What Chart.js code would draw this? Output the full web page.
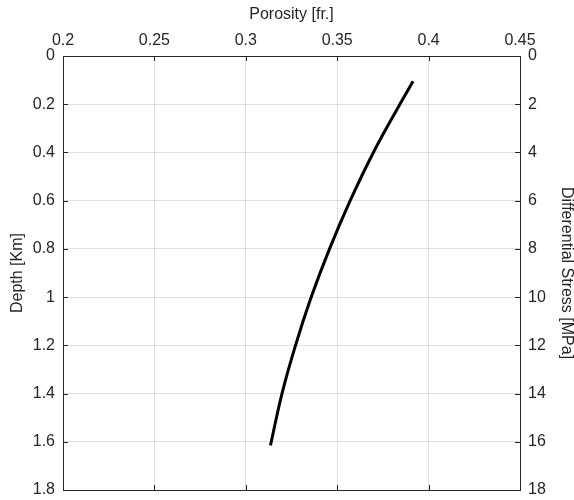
<!DOCTYPE html>
<html>
<head>
<meta charset="utf-8">
<script src="https://cdn.jsdelivr.net/npm/chart.js@4.4.1/dist/chart.umd.min.js"></script>
<style>
  html, body { margin: 0; padding: 0; background: #fff; }
  #wrap { width: 574px; height: 500px; }
</style>
</head>
<body>
<div id="wrap"><canvas id="porosityChart" width="574" height="500"></canvas></div>
<script>
// depth [Km] and porosity [fr.]
const depthKm = [0.105, 0.2, 0.4, 0.6, 0.8, 1.0, 1.2, 1.4, 1.615];
const porosity = [0.3915, 0.3843, 0.3698, 0.3571, 0.3458, 0.3358, 0.3272, 0.3198, 0.3135];

const porosityTicks = [0.2, 0.25, 0.3, 0.35, 0.4, 0.45];
const depthTicks = [0, 0.2, 0.4, 0.6, 0.8, 1, 1.2, 1.4, 1.6, 1.8];
const stressTicks = [0, 2, 4, 6, 8, 10, 12, 14, 16, 18];

const points = depthKm.map((d, i) => ({ x: porosity[i], y: d }));

const textColor = '#262626';
const gridColor = 'rgba(0,0,0,0.12)';
const font = { family: 'Liberation Sans, Arial, sans-serif', size: 16 };
const fmt = v => String(+Number(v).toFixed(2));

// fixed box sizes, no extra room for the end labels
const fixSize = (w, h) => s => {
    if (w != null) s.width = w;
    if (h != null) s.height = h;
    s.paddingTop = s.paddingBottom = s.paddingLeft = s.paddingRight = 0;
};

// matlab style ticks pointing into the box
const innerTicks = {
    id: 'innerTicks',
    afterDraw(chart) {
        const { ctx, chartArea: a, scales } = chart;
        const len = 5;
        ctx.save();
        ctx.strokeStyle = '#262626';
        ctx.lineWidth = 1;
        ctx.beginPath();
        porosityTicks.forEach(v => {
            const px = Math.round(scales.x.getPixelForValue(v)) + 0.5;
            ctx.moveTo(px, a.top); ctx.lineTo(px, a.top + len);
            ctx.moveTo(px, a.bottom); ctx.lineTo(px, a.bottom - len);
        });
        depthTicks.forEach(v => {
            const py = Math.round(scales.y.getPixelForValue(v)) + 0.5;
            ctx.moveTo(a.left, py); ctx.lineTo(a.left + len, py);
        });
        stressTicks.forEach(v => {
            const py = Math.round(scales.y2.getPixelForValue(v)) + 0.5;
            ctx.moveTo(a.right, py); ctx.lineTo(a.right - len, py);
        });
        ctx.stroke();
        ctx.restore();
    }
};

const ctx = document.getElementById('porosityChart').getContext('2d');
new Chart(ctx, {
    type: 'scatter',
    data: {
        datasets: [{
            data: points,
            showLine: true,
            borderColor: '#000',
            borderWidth: 3,
            pointRadius: 0,
            tension: 0.4,
            xAxisID: 'x',
            yAxisID: 'y'
        }]
    },
    options: {
        responsive: false,
        animation: false,
        plugins: { legend: { display: false }, tooltip: { enabled: false } },
        layout: { padding: 0 },
        scales: {
            x: {
                type: 'linear',
                position: 'top',
                min: 0.2,
                max: 0.45,
                afterBuildTicks: s => { s.ticks = porosityTicks.map(v => ({ value: v })); },
                ticks: { color: textColor, font, padding: 6, maxRotation: 0, callback: fmt },
                grid: { color: gridColor, tickLength: 0 },
                border: { color: '#262626', width: 1 },
                title: { display: true, text: 'Porosity [fr.]', color: textColor, font, padding: { top: 5, bottom: 2 } },
                afterFit: fixSize(null, 56)
            },
            xb: {
                type: 'linear',
                position: 'bottom',
                min: 0.2,
                max: 0.45,
                ticks: { display: false },
                grid: { display: false },
                border: { color: '#262626', width: 1 },
                afterFit: fixSize(null, 10)
            },
            y: {
                type: 'linear',
                position: 'left',
                reverse: true,
                min: 0,
                max: 1.8,
                afterBuildTicks: s => { s.ticks = depthTicks.map(v => ({ value: v })); },
                ticks: { color: textColor, font, padding: 8, callback: fmt },
                grid: { color: gridColor, tickLength: 0 },
                border: { color: '#262626', width: 1 },
                title: { display: true, text: 'Depth [Km]', color: textColor, font, padding: { top: 8, bottom: 2 } },
                afterFit: fixSize(63, null)
            },
            y2: {
                type: 'linear',
                position: 'right',
                reverse: true,
                min: 0,
                max: 18,
                afterBuildTicks: s => { s.ticks = stressTicks.map(v => ({ value: v })); },
                ticks: { color: textColor, font, padding: 8, callback: fmt },
                grid: { drawOnChartArea: false, tickLength: 0 },
                border: { color: '#262626', width: 1 },
                title: { display: true, text: 'Differential Stress [MPa]', color: textColor, font, padding: { top: -2, bottom: 0 } },
                afterFit: fixSize(54, null)
            }
        }
    },
    plugins: [innerTicks]
});
</script>
</body>
</html>
